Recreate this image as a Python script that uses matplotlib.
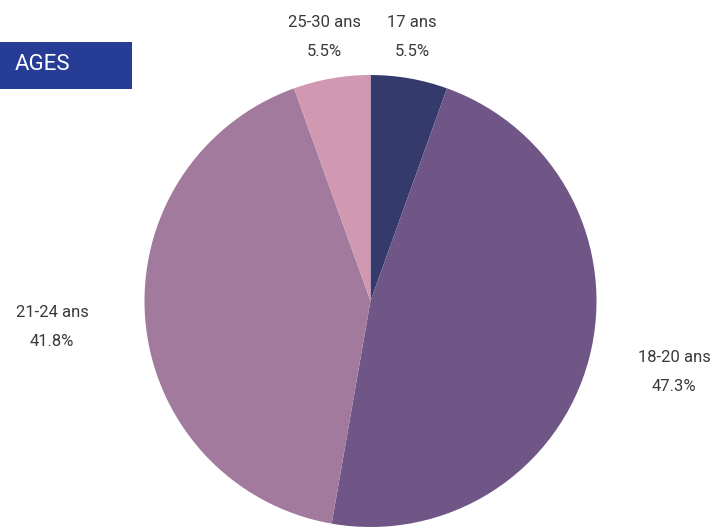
import matplotlib
matplotlib.use("Agg")
import matplotlib.pyplot as plt
from matplotlib.patches import Rectangle

plt.rcParams['font.family'] = ['Roboto', 'DejaVu Sans']

categories = ["17 ans", "18-20 ans", "21-24 ans", "25-30 ans"]
values = [5.5, 47.3, 41.8, 5.5]
colors = ["#353a6d", "#6f5686", "#a27a9e", "#d198b2"]
title = "AGES"

W, H = 727, 527
fig = plt.figure(figsize=(W / 100, H / 100), dpi=100)
ax = fig.add_axes([0, 0, 1, 1])

cx, cy, r = 370.5, 301, 226
# y axis is inverted (pixel coords): startangle=-90 points up on screen and
# counterclock=True in data coordinates runs clockwise on screen.
wedges, texts = ax.pie(values, colors=colors, startangle=-90, counterclock=True,
                       center=(cx, cy), radius=r, frame=True,
                       labels=[f"{c}\n{v:.1f}%" for c, v in zip(categories, values)],
                       wedgeprops=dict(linewidth=0))
ax.set_xlim(0, W)
ax.set_ylim(H, 0)
ax.set_aspect('equal')
ax.axis('off')

label_pos = [(412, 37), (674, 372), (52, 327), (324, 37)]
for t, (x, y) in zip(texts, label_pos):
    t.set_position((x, y))
    t.set_ha('center')
    t.set_va('center')
    t.set_fontsize(12)
    t.set_color('#3a3a3a')
    t.set_linespacing(2.15)

ax.add_patch(Rectangle((0, 42), 132, 47, facecolor="#263c95", edgecolor='none'))
ax.text(15, 64, title, color='white', fontsize=16, va='center', ha='left')

fig.savefig("out.png", dpi=100)
